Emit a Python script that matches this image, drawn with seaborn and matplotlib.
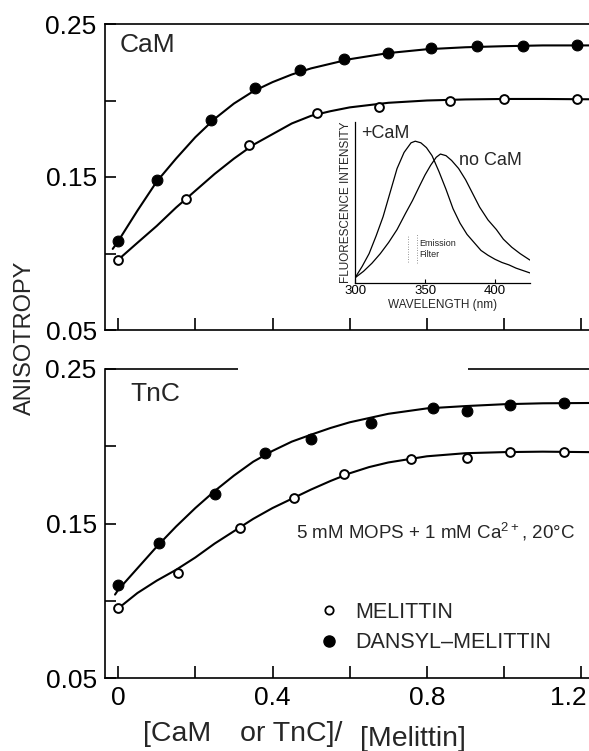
import matplotlib
matplotlib.use("Agg")
import matplotlib.pyplot as plt
from matplotlib.lines import Line2D
from matplotlib.transforms import ScaledTranslation
import seaborn as sns

# ---- titration data: anisotropy vs [protein]/[melittin] ----
cam_x_dansyl = [0.0, 0.10, 0.24, 0.355, 0.47, 0.585, 0.70, 0.81, 0.93, 1.05, 1.19]
cam_y_dansyl = [0.108, 0.148, 0.187, 0.208, 0.220, 0.227, 0.231, 0.2345, 0.2355, 0.2355, 0.2365]
cam_x_mel = [0.0, 0.175, 0.34, 0.515, 0.675, 0.86, 1.0, 1.19]
cam_y_mel = [0.0955, 0.1355, 0.171, 0.192, 0.196, 0.1995, 0.201, 0.201]

tnc_x_dansyl = [0.0, 0.105, 0.25, 0.38, 0.50, 0.655, 0.815, 0.905, 1.015, 1.155]
tnc_y_dansyl = [0.110, 0.1375, 0.169, 0.1955, 0.205, 0.215, 0.2245, 0.223, 0.227, 0.228]
tnc_x_mel = [0.0, 0.155, 0.315, 0.455, 0.585, 0.76, 0.905, 1.015, 1.155]
tnc_y_mel = [0.0955, 0.118, 0.147, 0.1665, 0.182, 0.192, 0.1925, 0.1965, 0.196]

# fitted binding curves
cam_fit_x_dansyl = [-0.014, 0.0, 0.05, 0.1, 0.15, 0.2, 0.25, 0.3, 0.35, 0.4, 0.45, 0.5, 0.6,
                    0.7, 0.8, 0.9, 1.0, 1.1, 1.22]
cam_fit_dansyl = [0.103, 0.108, 0.128, 0.147, 0.162, 0.176, 0.188, 0.198, 0.206, 0.212, 0.217,
                  0.221, 0.227, 0.231, 0.2335, 0.2348, 0.2355, 0.236, 0.236]
cam_fit_x_mel = [0.005, 0.05, 0.1, 0.15, 0.2, 0.25, 0.3, 0.35, 0.4, 0.45, 0.5, 0.55, 0.6, 0.7,
                 0.8, 0.9, 1.0, 1.1, 1.22]
cam_fit_mel = [0.097, 0.107, 0.118, 0.130, 0.141, 0.152, 0.162, 0.171, 0.178, 0.185, 0.190,
               0.193, 0.1955, 0.1985, 0.200, 0.2007, 0.201, 0.201, 0.2008]
tnc_fit_x_dansyl = [-0.008, 0.0, 0.05, 0.1, 0.15, 0.2, 0.25, 0.3, 0.35, 0.4, 0.45, 0.5, 0.55,
                    0.6, 0.7, 0.8, 0.9, 1.0, 1.1, 1.22]
tnc_fit_dansyl = [0.104, 0.107, 0.121, 0.135, 0.148, 0.160, 0.171, 0.181, 0.190, 0.197, 0.203,
                  0.2075, 0.2118, 0.2155, 0.221, 0.2245, 0.226, 0.2272, 0.2278, 0.228]
tnc_fit_x_mel = [0.01, 0.05, 0.1, 0.15, 0.2, 0.25, 0.3, 0.35, 0.4, 0.45, 0.5, 0.55, 0.6, 0.65,
                 0.7, 0.8, 0.9, 1.0, 1.1, 1.22]
tnc_fit_mel = [0.097, 0.105, 0.113, 0.120, 0.128, 0.137, 0.145, 0.153, 0.160, 0.166, 0.172,
               0.1775, 0.1825, 0.1865, 0.1895, 0.1935, 0.1955, 0.1962, 0.1965, 0.1962]

# ---- inset: emission spectra (relative intensity) ----
spec_nm_cam = [300, 305, 310, 315, 320, 325, 330, 335, 340, 343, 347, 351, 355, 360, 365, 370,
               375, 380, 385, 390, 395, 400, 405, 410, 415, 420, 425]
spec_int_cam = [0.03, 0.10, 0.18, 0.29, 0.41, 0.56, 0.71, 0.81, 0.87, 0.88, 0.87, 0.84, 0.79,
                0.69, 0.58, 0.46, 0.37, 0.30, 0.25, 0.20, 0.17, 0.145, 0.125, 0.11, 0.09, 0.075,
                0.06]
spec_nm_free = [300, 306, 312, 318, 324, 330, 336, 341, 346, 350, 354, 358, 361, 365, 369, 374,
                379, 384, 389, 395, 401, 406, 412, 418, 425]
spec_int_free = [0.03, 0.07, 0.12, 0.18, 0.25, 0.33, 0.43, 0.51, 0.60, 0.67, 0.73, 0.78, 0.80,
                 0.79, 0.76, 0.71, 0.64, 0.555, 0.47, 0.39, 0.33, 0.27, 0.22, 0.18, 0.14]

y_ticks = [0.05, 0.10, 0.15, 0.20, 0.25]
y_tick_labels = ["0.05", "", "0.15", "", "0.25"]
x_ticks = [0.0, 0.2, 0.4, 0.6, 0.8, 1.0, 1.2]
x_tick_labels = ["0", "", "0.4", "", "0.8", "", "1.2"]
inset_ticks = [300, 350, 400]

sns.set_theme(style="white")
plt.rcParams["font.family"] = ["Liberation Sans", "DejaVu Sans"]
plt.rcParams["mathtext.fontset"] = "custom"
plt.rcParams["mathtext.rm"] = "Liberation Sans"
plt.rcParams["mathtext.default"] = "regular"

W, H = 589, 751
fig = plt.figure(figsize=(W / 100, H / 100), dpi=100)
fig.patch.set_facecolor("white")

left = 105 / W
ax_top = fig.add_axes([left, 1 - 330 / H, 1.0 - left, 306 / H])
ax_bot = fig.add_axes([left, 1 - 678 / H, 1.0 - left, 309 / H])

LW = 1.5
for ax in (ax_top, ax_bot):
    ax.set_facecolor("none")
    ax.set_xlim(-0.034, 1.22)
    ax.set_ylim(0.05, 0.25)
    ax.spines["right"].set_visible(False)
    for s in ("left", "bottom", "top"):
        ax.spines[s].set_color("black")
        ax.spines[s].set_linewidth(1.2)
    ax.set_yticks(y_ticks)
    ax.set_yticklabels(y_tick_labels)
    ax.set_xticks(x_ticks)
    ax.tick_params(axis="y", direction="in", length=8, width=1.2, pad=6,
                   labelsize=19, colors="black", left=True)
    ax.tick_params(axis="x", direction="in", length=9, width=1.2, pad=6,
                   labelsize=19, colors="black", bottom=True)
    ax.grid(False)

ax_top.set_xticklabels([])
ax_bot.set_xticklabels(x_tick_labels)
# nudge the last tick label so it stays inside the figure
last = ax_bot.get_xticklabels()[-1]
last.set_transform(last.get_transform() + ScaledTranslation(-13 / 100, 0, fig.dpi_scale_trans))

# broken top frame of the lower panel
ax_bot.spines["top"].set_visible(False)
ax_bot.hlines(0.25, -0.034, 0.31, color="black", lw=1.2, clip_on=False)
ax_bot.hlines(0.25, 0.907, 1.22, color="black", lw=1.2, clip_on=False)


def draw_panel(ax, xd, yd, xm, ym, fx_d, fy_d, fx_m, fy_m):
    sns.lineplot(x=fx_d, y=fy_d, ax=ax, color="black", lw=LW, sort=False, estimator=None)
    sns.lineplot(x=fx_m, y=fy_m, ax=ax, color="black", lw=LW, sort=False, estimator=None)
    sns.scatterplot(x=xd, y=yd, ax=ax, marker="o", s=60, color="black",
                    edgecolor="black", linewidth=0.8, zorder=4)
    sns.scatterplot(x=xm, y=ym, ax=ax, marker="o", s=40, facecolor="white",
                    edgecolor="black", linewidth=1.4, zorder=4)
    ax.set_xlabel("")
    ax.set_ylabel("")


draw_panel(ax_top, cam_x_dansyl, cam_y_dansyl, cam_x_mel, cam_y_mel,
           cam_fit_x_dansyl, cam_fit_dansyl, cam_fit_x_mel, cam_fit_mel)
draw_panel(ax_bot, tnc_x_dansyl, tnc_y_dansyl, tnc_x_mel, tnc_y_mel,
           tnc_fit_x_dansyl, tnc_fit_dansyl, tnc_fit_x_mel, tnc_fit_mel)

ax_top.text(0.005, 0.244, "CaM", fontsize=19, va="top", ha="left")
ax_bot.text(0.031, 0.2416, "TnC", fontsize=19, va="top", ha="left")
ax_bot.text(0.461, 0.1406, "5 mM MOPS + 1 mM Ca$^{2+}$, 20°C", fontsize=13.5,
            va="baseline", ha="left")

handles = [
    Line2D([], [], ls="none", marker="o", ms=6, mfc="white", mec="black", mew=1.3),
    Line2D([], [], ls="none", marker="o", ms=8, mfc="black", mec="black"),
]
ax_bot.legend(handles, ["MELITTIN", "DANSYL\u2013MELITTIN"], loc="upper left",
              bbox_to_anchor=(0.445, 0.247), frameon=False, fontsize=15.5,
              handlelength=0.8, handletextpad=0.8, labelspacing=0.45,
              borderpad=0, borderaxespad=0)

fig.text(25 / W, 1 - 338 / H, "ANISOTROPY", rotation=90, fontsize=17,
         ha="center", va="center")
# x-axis title: ratio with the denominator set slightly lower
fig.text(143 / W, 1 - 741 / H, "[CaM", fontsize=20.5, ha="left", va="baseline")
fig.text(240 / W, 1 - 741 / H, "or TnC]/", fontsize=20.5, ha="left", va="baseline")
fig.text(360 / W, 1 - 746 / H, "[Melittin]", fontsize=20.5, ha="left", va="baseline")

# ---- inset with emission spectra ----
ins = ax_top.inset_axes([0.614, 0.081, 1.067 - 0.614, 0.186 - 0.081],
                        transform=ax_top.transData)
ins.set_facecolor("none")
sns.lineplot(x=spec_nm_cam, y=spec_int_cam, ax=ins, color="black", lw=0.9,
             sort=False, estimator=None)
sns.lineplot(x=spec_nm_free, y=spec_int_free, ax=ins, color="black", lw=0.9,
             sort=False, estimator=None)
ins.set_xlim(300, 425)
ins.set_ylim(0, 1)
for s in ("top", "right"):
    ins.spines[s].set_visible(False)
for s in ("left", "bottom"):
    ins.spines[s].set_color("black")
    ins.spines[s].set_linewidth(0.9)
ins.set_xticks(inset_ticks)
ins.set_yticks([])
ins.tick_params(axis="x", direction="in", length=3, width=0.8, pad=2,
                labelsize=9.5, colors="black", bottom=True)
ins.set_xlabel("WAVELENGTH (nm)", fontsize=8.5, labelpad=1)
ins.set_ylabel("FLUORESCENCE INTENSITY", fontsize=8.5, labelpad=2)
ins.grid(False)
ins.text(304, 0.98, "+CaM", fontsize=13, va="top", ha="left")
ins.text(374, 0.81, "no CaM", fontsize=13, va="top", ha="left")
ins.vlines(338, 0.13, 0.29, color="0.45", lw=0.6, ls=(0, (1, 2)))
ins.vlines(344, 0.12, 0.30, color="0.45", lw=0.6, ls=(0, (1, 2)))
ins.text(346, 0.245, "Emission", fontsize=6.5, va="center", ha="left")
ins.text(346, 0.175, "Filter", fontsize=6.5, va="center", ha="left")

fig.savefig("out.png", dpi=100, facecolor="white")
